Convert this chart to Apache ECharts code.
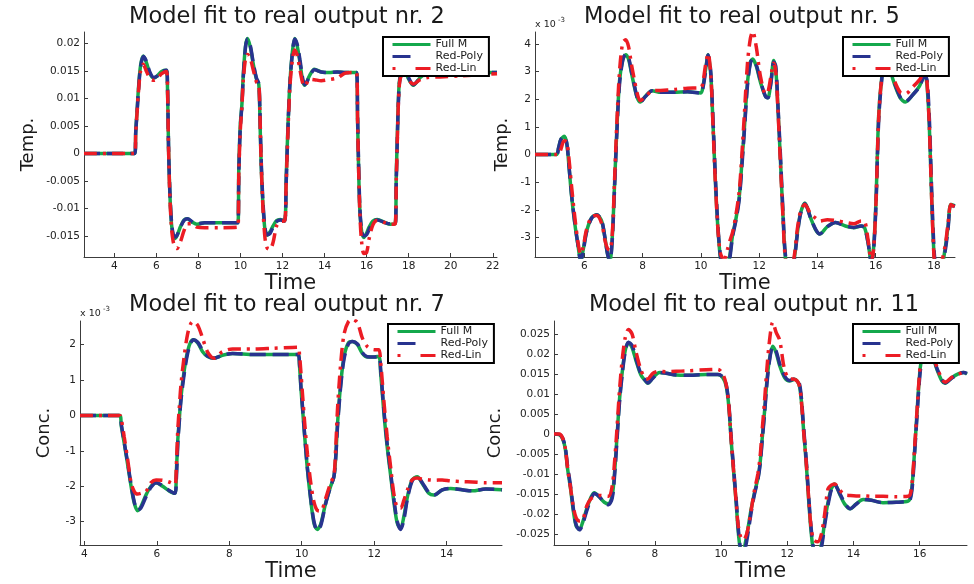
<!DOCTYPE html>
<html>
<head>
<meta charset="utf-8">
<script src="https://cdn.jsdelivr.net/npm/echarts@6/dist/echarts.min.js"></script>
<style>
  html, body { margin: 0; padding: 0; background: #ffffff; }
  #chart { width: 974px; height: 584px; }
</style>
</head>
<body>
<div id="chart"></div>
<script>
// ---- Output nr. 2 (temperature) ----
const T1 = [
  2.56, 4.98, 5.02, 5.08, 5.15, 5.25, 5.38, 5.52, 5.70, 5.88,
  6.05, 6.25, 6.48, 6.53, 6.58, 6.64, 6.72, 6.80, 6.88, 6.98,
  7.15, 7.32, 7.48, 7.70, 7.93, 8.30, 9.00, 9.88, 9.92, 9.99,
  10.07, 10.13, 10.24, 10.34, 10.47, 10.62, 10.76, 10.87, 10.92, 10.98,
  11.07, 11.17, 11.27, 11.40, 11.55, 11.72, 11.90, 12.10, 12.17, 12.25,
  12.35, 12.47, 12.58, 12.70, 12.83, 12.96, 13.06, 13.28, 13.52, 13.84,
  14.20, 14.60, 15.00, 15.52, 15.57, 15.62, 15.68, 15.76, 15.87, 16.00,
  16.12, 16.30, 16.50, 16.88, 17.12, 17.36, 17.41, 17.47, 17.52, 17.60,
  17.80, 18.00, 18.22, 18.55, 18.90, 19.50, 20.50, 22.20
];
const FULL_1 = [
  0, 0, 0.0040, 0.0075, 0.0118, 0.0160, 0.0177, 0.0166, 0.0145, 0.0137,
  0.0141, 0.0149, 0.0151, 0.0120, 0.0010, -0.0070, -0.0128, -0.0150, -0.0155, -0.0150,
  -0.0133, -0.0121, -0.0119, -0.0125, -0.0129, -0.0126, -0.0126, -0.0126, -0.0030, 0.0050,
  0.0090, 0.0140, 0.0195, 0.0209, 0.0193, 0.0160, 0.0135, 0.0126, 0.0075, -0.0015,
  -0.0093, -0.0140, -0.0149, -0.0143, -0.0132, -0.0122, -0.0120, -0.0123, -0.0050, 0.0040,
  0.0128, 0.0185, 0.0209, 0.0195, 0.0165, 0.0132, 0.0124, 0.0141, 0.0153, 0.0148,
  0.0147, 0.0148, 0.0147, 0.0147, 0.0060, -0.0030, -0.0105, -0.0141, -0.0153, -0.0145,
  -0.0134, -0.0123, -0.0120, -0.0126, -0.0129, -0.0128, -0.0040, 0.0047, 0.0107, 0.0141,
  0.0150, 0.0135, 0.0124, 0.0138, 0.0146, 0.0147, 0.0147, 0.0147
];
const POLY_1 = [
  0, 0, 0.0038, 0.0072, 0.0114, 0.0157, 0.0176, 0.0168, 0.0147, 0.0138,
  0.0141, 0.0149, 0.0151, 0.0125, 0.0015, -0.0065, -0.0124, -0.0147, -0.0152, -0.0149,
  -0.0134, -0.0122, -0.0119, -0.0124, -0.0128, -0.0126, -0.0126, -0.0126, -0.0040, 0.0045,
  0.0088, 0.0136, 0.0193, 0.0208, 0.0196, 0.0162, 0.0137, 0.0127, 0.0085, -0.0005,
  -0.0088, -0.0136, -0.0148, -0.0146, -0.0134, -0.0124, -0.0121, -0.0123, -0.0060, 0.0035,
  0.0125, 0.0182, 0.0208, 0.0198, 0.0170, 0.0136, 0.0125, 0.0139, 0.0152, 0.0148,
  0.0147, 0.0148, 0.0147, 0.0147, 0.0070, -0.0020, -0.0100, -0.0138, -0.0150, -0.0148,
  -0.0138, -0.0125, -0.0121, -0.0126, -0.0128, -0.0128, -0.0050, 0.0040, 0.0100, 0.0138,
  0.0151, 0.0137, 0.0125, 0.0137, 0.0145, 0.0147, 0.0147, 0.0147
];
const LIN_1 = [
  0, 0, 0.0038, 0.0072, 0.0112, 0.0150, 0.0162, 0.0150, 0.0136, 0.0133,
  0.0136, 0.0145, 0.0149, 0.0120, 0.0010, -0.0075, -0.0135, -0.0160, -0.0170, -0.0173,
  -0.0160, -0.0140, -0.0128, -0.0128, -0.0134, -0.0135, -0.0135, -0.0134, -0.0040, 0.0040,
  0.0085, 0.0130, 0.0172, 0.0180, 0.0172, 0.0150, 0.0130, 0.0125, 0.0080, -0.0010,
  -0.0100, -0.0155, -0.0172, -0.0175, -0.0162, -0.0132, -0.0124, -0.0123, -0.0060, 0.0030,
  0.0120, 0.0170, 0.0188, 0.0178, 0.0152, 0.0128, 0.0122, 0.0135, 0.0134, 0.0132,
  0.0134, 0.0137, 0.0146, 0.0147, 0.0060, -0.0030, -0.0110, -0.0160, -0.0182, -0.0180,
  -0.0155, -0.0130, -0.0122, -0.0126, -0.0129, -0.0128, -0.0050, 0.0040, 0.0100, 0.0136,
  0.0148, 0.0133, 0.0126, 0.0134, 0.0138, 0.0139, 0.0141, 0.0145
];
const X_TICKS_1 = [4, 6, 8, 10, 12, 14, 16, 18, 20, 22];
const Y_TICKS_1 = [-0.015, -0.01, -0.005, 0, 0.005, 0.01, 0.015, 0.02];

// ---- Output nr. 5 (temperature, x 10^-3) ----
const T2 = [
  4.31, 5.04, 5.12, 5.20, 5.31, 5.40, 5.48, 5.56, 5.68, 5.79,
  5.88, 5.97, 6.08, 6.25, 6.43, 6.60, 6.71, 6.80, 6.88, 6.96,
  7.04, 7.12, 7.21, 7.32, 7.42, 7.52, 7.62, 7.72, 7.82, 7.92,
  8.10, 8.33, 8.62, 9.08, 9.54, 10.00, 10.07, 10.17, 10.25, 10.34,
  10.40, 10.46, 10.52, 10.60, 10.68, 10.80, 10.92, 11.00, 11.09, 11.20,
  11.32, 11.42, 11.49, 11.60, 11.70, 11.78, 11.90, 12.05, 12.22, 12.30,
  12.40, 12.50, 12.57, 12.65, 12.73, 12.82, 12.90, 13.05, 13.20, 13.31,
  13.42, 13.57, 13.77, 13.94, 14.08, 14.34, 14.62, 14.96, 15.25, 15.50,
  15.62, 15.74, 15.85, 15.93, 16.01, 16.10, 16.19, 16.30, 16.45, 16.61,
  16.84, 17.02, 17.28, 17.50, 17.68, 17.76, 17.84, 17.92, 18.00, 18.07,
  18.20, 18.38, 18.48, 18.58, 18.72
];
const FULL_2 = [
  0, 0, 0.25, 0.55, 0.66, 0.40, -0.48, -1.45, -2.53, -3.31,
  -3.85, -3.40, -2.77, -2.29, -2.17, -2.41, -3.01, -3.60, -3.85, -3.00,
  -1.08, 0.96, 2.65, 3.43, 3.61, 3.45, 2.95, 2.45, 2.05, 1.90,
  2.11, 2.31, 2.25, 2.25, 2.27, 2.23, 2.45, 3.13, 3.61, 2.89,
  1.57, 0.00, -1.45, -2.89, -3.80, -4.40, -4.00, -3.60, -2.90, -2.35,
  -1.50, -0.10, 0.90, 2.60, 3.35, 3.45, 3.20, 2.60, 2.10, 2.05,
  2.60, 3.40, 3.10, 1.60, -0.20, -2.24, -3.70, -4.50, -3.80, -2.84,
  -2.12, -1.75, -2.30, -2.72, -2.87, -2.60, -2.45, -2.58, -2.64, -2.58,
  -2.65, -3.20, -3.90, -3.33, -1.63, 1.39, 2.60, 3.30, 3.20, 2.65,
  2.05, 1.90, 2.17, 2.47, 2.90, 2.50, 1.00, -1.60, -3.60, -4.20,
  -4.30, -3.40, -2.60, -1.80, -1.85
];
const POLY_2 = [
  0, 0, 0.25, 0.55, 0.66, 0.42, -0.45, -1.40, -2.50, -3.30,
  -3.85, -3.45, -2.80, -2.30, -2.17, -2.40, -3.00, -3.60, -3.85, -3.10,
  -1.20, 0.80, 2.55, 3.40, 3.62, 3.50, 3.00, 2.50, 2.05, 1.90,
  2.10, 2.31, 2.25, 2.25, 2.27, 2.22, 2.40, 3.05, 3.60, 3.00,
  1.70, 0.20, -1.30, -2.80, -3.75, -4.40, -4.10, -3.70, -2.95, -2.40,
  -1.60, -0.25, 0.80, 2.50, 3.30, 3.45, 3.25, 2.65, 2.10, 2.05,
  2.55, 3.35, 3.20, 1.70, 0.00, -2.10, -3.60, -4.50, -3.85, -2.90,
  -2.15, -1.78, -2.30, -2.70, -2.87, -2.60, -2.45, -2.58, -2.63, -2.58,
  -2.65, -3.20, -3.90, -3.40, -1.80, 1.20, 2.50, 3.25, 3.25, 2.70,
  2.08, 1.92, 2.17, 2.45, 2.85, 2.70, 1.30, -1.30, -3.40, -4.10,
  -4.30, -3.50, -2.70, -1.85, -1.85
];
const LIN_2 = [
  0, 0, 0.00, 0.20, 0.50, 0.45, -0.20, -1.10, -2.30, -3.20,
  -3.60, -3.30, -2.70, -2.25, -2.20, -2.50, -3.10, -3.40, -3.45, -2.90,
  -0.90, 1.20, 3.00, 4.05, 4.15, 3.90, 3.25, 2.70, 2.20, 1.95,
  2.10, 2.30, 2.32, 2.35, 2.40, 2.42, 2.60, 3.30, 3.65, 2.90,
  1.50, -0.10, -1.50, -2.90, -3.60, -3.80, -3.40, -3.10, -2.80, -2.20,
  -1.30, 0.20, 1.40, 3.30, 4.20, 4.45, 3.90, 2.80, 2.20, 2.25,
  2.80, 3.30, 3.00, 1.50, -0.30, -2.30, -3.75, -4.30, -3.70, -2.70,
  -2.05, -1.80, -2.15, -2.30, -2.40, -2.35, -2.38, -2.45, -2.50, -2.40,
  -2.42, -3.10, -3.85, -3.40, -1.70, 1.30, 2.60, 3.30, 3.30, 2.75,
  2.25, 2.20, 2.45, 2.70, 3.00, 2.60, 1.00, -1.60, -3.70, -4.20,
  -4.10, -3.30, -2.50, -1.80, -1.90
];
const X_TICKS_2 = [6, 8, 10, 12, 14, 16, 18];
const Y_TICKS_2 = [-3, -2, -1, 0, 1, 2, 3, 4];

// ---- Output nr. 7 (concentration, x 10^-3) ----
const T3 = [
  3.88, 4.98, 5.02, 5.10, 5.19, 5.29, 5.38, 5.47, 5.56, 5.70,
  5.84, 5.98, 6.16, 6.34, 6.50, 6.54, 6.58, 6.62, 6.67, 6.76,
  6.85, 6.94, 7.01, 7.13, 7.26, 7.40, 7.58, 7.81, 8.09, 8.37,
  8.64, 9.20, 9.90, 9.94, 9.98, 10.03, 10.09, 10.16, 10.25, 10.34,
  10.43, 10.53, 10.66, 10.80, 10.89, 10.94, 10.99, 11.08, 11.17, 11.29,
  11.40, 11.54, 11.67, 11.81, 12.00, 12.13, 12.18, 12.27, 12.36, 12.46,
  12.55, 12.64, 12.73, 12.82, 12.92, 13.05, 13.19, 13.33, 13.51, 13.65,
  13.88, 14.11, 14.43, 14.71, 15.08, 15.53
];
const FULL_3 = [
  0, 0, -0.30, -0.78, -1.35, -2.00, -2.48, -2.69, -2.58, -2.25,
  -2.00, -1.90, -2.00, -2.13, -2.20, -1.60, -0.69, -0.12, 0.54, 1.29,
  1.81, 2.09, 2.14, 2.05, 1.81, 1.67, 1.62, 1.70, 1.75, 1.74,
  1.72, 1.72, 1.72, 1.40, 0.75, 0.10, -0.69, -1.54, -2.39, -3.05,
  -3.22, -3.05, -2.48, -2.00, -1.73, -1.16, -0.22, 0.92, 1.67, 2.05,
  2.09, 2.00, 1.76, 1.65, 1.65, 1.67, 1.20, 0.07, -0.88, -1.73,
  -2.48, -3.05, -3.19, -2.86, -2.29, -1.82, -1.73, -1.92, -2.20, -2.25,
  -2.10, -2.06, -2.10, -2.13, -2.08, -2.10
];
const POLY_3 = [
  0, 0, -0.25, -0.75, -1.30, -1.95, -2.45, -2.68, -2.62, -2.30,
  -2.03, -1.90, -1.98, -2.12, -2.20, -1.80, -0.80, -0.20, 0.45, 1.20,
  1.75, 2.05, 2.14, 2.07, 1.85, 1.68, 1.62, 1.70, 1.75, 1.74,
  1.72, 1.72, 1.72, 1.45, 0.80, 0.15, -0.65, -1.50, -2.35, -3.00,
  -3.25, -3.10, -2.50, -2.00, -1.73, -1.20, -0.30, 0.85, 1.60, 2.02,
  2.09, 2.02, 1.78, 1.66, 1.65, 1.67, 1.30, 0.15, -0.80, -1.65,
  -2.40, -3.00, -3.22, -2.95, -2.35, -1.85, -1.73, -1.90, -2.18, -2.25,
  -2.10, -2.06, -2.10, -2.13, -2.08, -2.10
];
const LIN_3 = [
  0, 0, -0.10, -0.60, -1.20, -1.90, -2.15, -2.22, -2.20, -2.15,
  -1.90, -1.82, -1.83, -1.88, -1.95, -1.40, -0.40, 0.20, 0.90, 1.70,
  2.30, 2.60, 2.66, 2.55, 2.20, 1.80, 1.62, 1.80, 1.88, 1.88,
  1.88, 1.90, 1.93, 1.70, 1.20, 0.50, -0.30, -1.10, -1.90, -2.45,
  -2.68, -2.70, -2.35, -1.90, -1.70, -0.90, 0.20, 1.50, 2.30, 2.65,
  2.72, 2.62, 2.20, 1.95, 1.86, 1.86, 1.50, 0.40, -0.60, -1.50,
  -2.25, -2.60, -2.62, -2.40, -2.10, -1.82, -1.77, -1.80, -1.82, -1.83,
  -1.82, -1.85, -1.87, -1.88, -1.90, -1.90
];
const X_TICKS_3 = [4, 6, 8, 10, 12, 14];
const Y_TICKS_3 = [-3, -2, -1, 0, 1, 2];

// ---- Output nr. 11 (concentration) ----
const T4 = [
  4.95, 5.11, 5.21, 5.29, 5.36, 5.45, 5.54, 5.62, 5.72, 5.82,
  5.94, 6.07, 6.17, 6.32, 6.47, 6.60, 6.71, 6.78, 6.85, 6.93,
  7.01, 7.10, 7.20, 7.31, 7.43, 7.58, 7.73, 7.78, 7.94, 8.14,
  8.34, 8.64, 8.94, 9.55, 9.90, 10.05, 10.15, 10.23, 10.30, 10.38,
  10.46, 10.51, 10.58, 10.65, 10.72, 10.81, 10.91, 11.01, 11.11, 11.18,
  11.24, 11.31, 11.38, 11.46, 11.56, 11.66, 11.77, 11.92, 12.07, 12.22,
  12.35, 12.42, 12.49, 12.57, 12.65, 12.72, 12.80, 12.92, 13.03, 13.13,
  13.23, 13.33, 13.43, 13.58, 13.73, 13.90, 14.08, 14.29, 14.54, 14.89,
  15.29, 15.65, 15.72, 15.78, 15.85, 15.92, 15.98, 16.05, 16.20, 16.38,
  16.52, 16.67, 16.77, 16.97, 17.18, 17.33, 17.43
];
const FULL_4 = [
  0, -0.0002, -0.0012, -0.0037, -0.0087, -0.0137, -0.0196, -0.0230, -0.0239, -0.0220,
  -0.0187, -0.0158, -0.0147, -0.0158, -0.0171, -0.0175, -0.0154, -0.0096, -0.0012, 0.0087,
  0.0154, 0.0208, 0.0229, 0.0216, 0.0183, 0.0147, 0.0131, 0.0127, 0.0141, 0.0154,
  0.0152, 0.0148, 0.0147, 0.0149, 0.0149, 0.0141, 0.0121, 0.0071, -0.0012, -0.0096,
  -0.0179, -0.0237, -0.0290, -0.0305, -0.0278, -0.0237, -0.0187, -0.0146, -0.0112, -0.0071,
  -0.0012, 0.0054, 0.0129, 0.0187, 0.0220, 0.0204, 0.0171, 0.0141, 0.0133, 0.0137,
  0.0125, 0.0087, 0.0012, -0.0071, -0.0171, -0.0245, -0.0295, -0.0305, -0.0277, -0.0220,
  -0.0171, -0.0137, -0.0125, -0.0150, -0.0175, -0.0187, -0.0175, -0.0164, -0.0166, -0.0172,
  -0.0171, -0.0168, -0.0158, -0.0121, -0.0037, 0.0054, 0.0129, 0.0183, 0.0210, 0.0195,
  0.0162, 0.0133, 0.0127, 0.0141, 0.0151, 0.0154, 0.0150
];
const POLY_4 = [
  0, -0.0001, -0.0010, -0.0033, -0.0080, -0.0130, -0.0190, -0.0228, -0.0240, -0.0225,
  -0.0192, -0.0162, -0.0149, -0.0157, -0.0172, -0.0177, -0.0160, -0.0105, -0.0020, 0.0080,
  0.0148, 0.0205, 0.0230, 0.0222, 0.0188, 0.0150, 0.0132, 0.0128, 0.0140, 0.0154,
  0.0152, 0.0148, 0.0147, 0.0149, 0.0149, 0.0143, 0.0125, 0.0078, -0.0005, -0.0088,
  -0.0170, -0.0228, -0.0285, -0.0305, -0.0290, -0.0250, -0.0195, -0.0150, -0.0115, -0.0075,
  -0.0018, 0.0048, 0.0122, 0.0182, 0.0218, 0.0208, 0.0176, 0.0145, 0.0134, 0.0138,
  0.0130, 0.0095, 0.0020, -0.0062, -0.0160, -0.0235, -0.0290, -0.0310, -0.0285, -0.0228,
  -0.0178, -0.0140, -0.0127, -0.0148, -0.0172, -0.0187, -0.0176, -0.0164, -0.0166, -0.0172,
  -0.0171, -0.0168, -0.0162, -0.0130, -0.0045, 0.0045, 0.0120, 0.0175, 0.0208, 0.0198,
  0.0165, 0.0136, 0.0128, 0.0140, 0.0151, 0.0154, 0.0152
];
const LIN_4 = [
  0, 0, -0.0010, -0.0035, -0.0085, -0.0135, -0.0185, -0.0210, -0.0218, -0.0215,
  -0.0180, -0.0162, -0.0158, -0.0154, -0.0155, -0.0156, -0.0130, -0.0070, 0.0010, 0.0110,
  0.0185, 0.0240, 0.0262, 0.0250, 0.0205, 0.0160, 0.0138, 0.0138, 0.0152, 0.0157,
  0.0156, 0.0157, 0.0158, 0.0161, 0.0162, 0.0150, 0.0125, 0.0075, -0.0010, -0.0095,
  -0.0175, -0.0225, -0.0255, -0.0265, -0.0262, -0.0238, -0.0190, -0.0140, -0.0100, -0.0055,
  0.0010, 0.0080, 0.0160, 0.0232, 0.0280, 0.0255, 0.0235, 0.0160, 0.0138, 0.0137,
  0.0125, 0.0087, 0.0010, -0.0070, -0.0165, -0.0235, -0.0265, -0.0270, -0.0250, -0.0200,
  -0.0137, -0.0128, -0.0125, -0.0140, -0.0152, -0.0154, -0.0155, -0.0155, -0.0156, -0.0156,
  -0.0157, -0.0156, -0.0150, -0.0115, -0.0030, 0.0060, 0.0135, 0.0190, 0.0220, 0.0200,
  0.0168, 0.0138, 0.0130, 0.0142, 0.0150, 0.0155, 0.0158
];
const X_TICKS_4 = [6, 8, 10, 12, 14, 16];
const Y_TICKS_4 = [-0.025, -0.02, -0.015, -0.01, -0.005, 0, 0.005, 0.01, 0.015, 0.02, 0.025];

const SERIES_NAMES = ['Full M', 'Red-Poly', 'Red-Lin'];
const X_NAME = 'Time';

// ---- layout and styling ----
const FONT = 'DejaVu Sans';
const INK = '#1a1a1a';
const STYLES = [
  { color: '#14a84c', type: 'solid', legendType: 'solid' },
  { color: '#28338f', type: [16, 7], legendType: [18, 20] },
  { color: '#ec1c24', type: [13, 6, 3, 6], legendType: [3, 20, 15, 1] }
];

const panels = [
  {
    title: 'Model fit to real output nr. 2', yName: 'Temp.',
    t: T1, values: [FULL_1, POLY_1, LIN_1], xTicks: X_TICKS_1, yTicks: Y_TICKS_1,
    xRange: [2.56, 22.2], yRange: [-0.01884, 0.02207],
    grid: { left: 84, top: 32, width: 413, height: 225 },
    titleX: 287, titleY: 6, yNameGap: 47, legend: { left: 383, top: 37 }
  },
  {
    title: 'Model fit to real output nr. 5', yName: 'Temp.',
    t: T2, values: [FULL_2, POLY_2, LIN_2], xTicks: X_TICKS_2, yTicks: Y_TICKS_2,
    xRange: [4.31, 18.72], yRange: [-3.70, 4.43],
    grid: { left: 535, top: 32, width: 420, height: 225 },
    titleX: 742, titleY: 6, yNameGap: 24, legend: { left: 843, top: 37 },
    exponent: { x: 535, y: 20 }
  },
  {
    title: 'Model fit to real output nr. 7', yName: 'Conc.',
    t: T3, values: [FULL_3, POLY_3, LIN_3], xTicks: X_TICKS_3, yTicks: Y_TICKS_3,
    xRange: [3.88, 15.53], yRange: [-3.66, 2.67],
    grid: { left: 80, top: 321, width: 422, height: 224 },
    titleX: 287, titleY: 294, yNameGap: 27, legend: { left: 388, top: 324 },
    exponent: { x: 80, y: 309 }
  },
  {
    title: 'Model fit to real output nr. 11', yName: 'Conc.',
    t: T4, values: [FULL_4, POLY_4, LIN_4], xTicks: X_TICKS_4, yTicks: Y_TICKS_4,
    xRange: [4.95, 17.43], yRange: [-0.0278, 0.0283],
    grid: { left: 554, top: 321, width: 413, height: 224 },
    titleX: 754, titleY: 294, yNameGap: 50, legend: { left: 853, top: 324 }
  }
];

const axisCommon = {
  type: 'value',
  splitLine: { show: false },
  axisLine: { show: true, onZero: false, lineStyle: { color: '#3c3c3c', width: 1 } },
  axisTick: { show: true, inside: true, length: 4, lineStyle: { color: '#3c3c3c' } }
};

const option = {
  animation: false,
  backgroundColor: '#ffffff',
  title: [],
  legend: [],
  grid: [],
  xAxis: [],
  yAxis: [],
  series: [],
  graphic: []
};

panels.forEach((p, i) => {
  option.grid.push(Object.assign({ containLabel: false }, p.grid));
  option.title.push({
    text: p.title, left: p.titleX, top: p.titleY, textAlign: 'center', padding: 0,
    textStyle: { fontFamily: FONT, fontSize: 22.5, fontWeight: 'normal', color: INK }
  });
  option.xAxis.push(Object.assign({}, axisCommon, {
    gridIndex: i, min: p.xRange[0], max: p.xRange[1],
    name: X_NAME, nameLocation: 'middle', nameGap: 12,
    nameTextStyle: { fontFamily: FONT, fontSize: 21, color: INK },
    axisTick: Object.assign({}, axisCommon.axisTick, { customValues: p.xTicks }),
    axisLabel: { customValues: p.xTicks, margin: 4, fontFamily: FONT, fontSize: 10.5, color: '#222' }
  }));
  option.yAxis.push(Object.assign({}, axisCommon, {
    gridIndex: i, min: p.yRange[0], max: p.yRange[1],
    name: p.yName, nameLocation: 'middle', nameGap: p.yNameGap,
    nameTextStyle: { fontFamily: FONT, fontSize: 18, color: INK },
    axisTick: Object.assign({}, axisCommon.axisTick, { customValues: p.yTicks }),
    axisLabel: { customValues: p.yTicks, margin: 4, fontFamily: FONT, fontSize: 10.5, color: '#222' }
  }));
  SERIES_NAMES.forEach((name, k) => {
    option.series.push({
      name: name, type: 'line', xAxisIndex: i, yAxisIndex: i,
      data: p.t.map((x, j) => [x, p.values[k][j]]),
      symbol: 'none', showSymbol: false, smooth: 0.3, clip: true,
      lineStyle: { color: STYLES[k].color, width: 3.5, type: STYLES[k].type },
      itemStyle: { color: STYLES[k].color },
      z: 2 + k
    });
  });
  option.legend.push({
    id: 'legend' + i,
    left: p.legend.left, top: p.legend.top, orient: 'vertical',
    itemWidth: 38, itemHeight: 12, itemGap: 1, padding: [2, 6, 2, 8],
    backgroundColor: '#ffffff', borderColor: '#000000', borderWidth: 2, borderRadius: 0,
    selectedMode: false, z: 10,
    textStyle: { fontFamily: FONT, fontSize: 11, color: INK },
    data: SERIES_NAMES.map((name, k) => ({
      name: name,
      itemStyle: { opacity: 0 },
      lineStyle: { color: STYLES[k].color, width: 3, type: STYLES[k].legendType }
    }))
  });
  if (p.exponent) {
    option.graphic.push({
      type: 'text', left: p.exponent.x, top: p.exponent.y,
      style: { text: 'x 10', font: '9.5px "DejaVu Sans"', fill: '#222' }
    });
    option.graphic.push({
      type: 'text', left: p.exponent.x + 23, top: p.exponent.y - 3,
      style: { text: '-3', font: '7px "DejaVu Sans"', fill: '#222' }
    });
  }
});

const chart = echarts.init(document.getElementById('chart'), null, { renderer: 'canvas' });
chart.setOption(option);
</script>
</body>
</html>
